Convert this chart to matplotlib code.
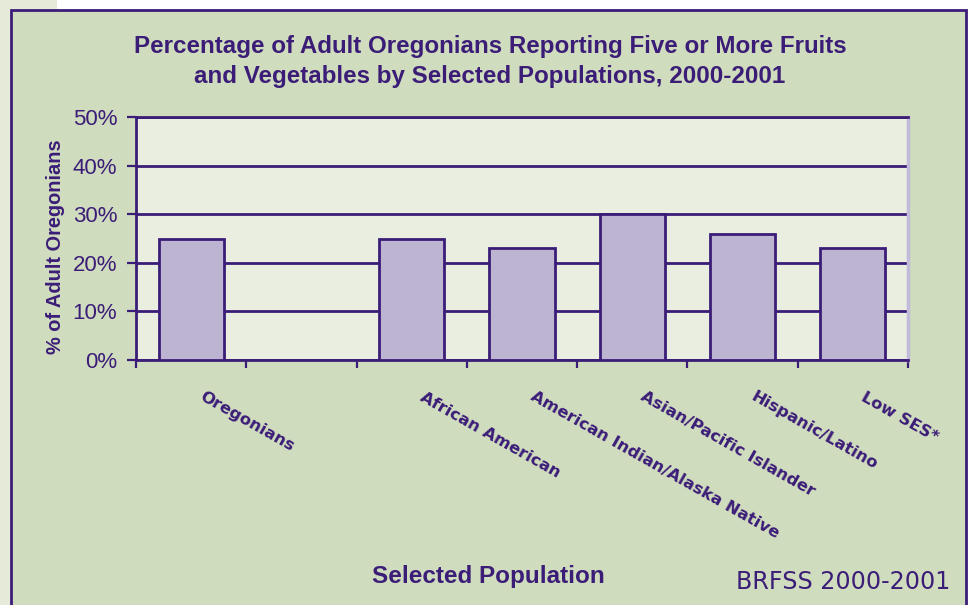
import numpy as np
import matplotlib
matplotlib.use("Agg")
import matplotlib.pyplot as plt
import matplotlib.patches as patches
import matplotlib.transforms as mtransforms
from matplotlib.ticker import FixedLocator, FuncFormatter

# Data: share of adults eating 5+ fruits/vegetables, BRFSS 2000-2001
categories = ["Oregonians", "", "African American", "American Indian/Alaska Native",
              "Asian/Pacific Islander", "Hispanic/Latino", "Low SES*"]
percents = [25, np.nan, 25, 23, 30, 26, 23]
y_ticks = [0, 10, 20, 30, 40, 50]
title_lines = ["Percentage of Adult Oregonians Reporting Five or More Fruits",
               "and Vegetables by Selected Populations, 2000-2001"]

INK = "#3b1d78"
BAR = "#bdb4d2"
PANEL = "#d0dcbe"
PLOT_BG = "#e9eee0"
STRIP = "#e6ead9"

W, H = 971, 605
fig = plt.figure(figsize=(W / 100, H / 100), dpi=100, facecolor="white")

# light strip on the left edge / top-left corner
fig.patches.append(patches.Rectangle((0, 0), 10 / W, 1, transform=fig.transFigure,
                                     facecolor=STRIP, edgecolor="none", zorder=-10))
fig.patches.append(patches.Rectangle((0, 1 - 9 / H), 57 / W, 9 / H, transform=fig.transFigure,
                                     facecolor=STRIP, edgecolor="none", zorder=-10))
# green chart panel with purple border
fig.patches.append(patches.Rectangle((10.5 / W, -0.05), (966 - 10.5) / W, 1.05 - 9.5 / H,
                                     transform=fig.transFigure, facecolor=PANEL,
                                     edgecolor=INK, linewidth=2, zorder=-10))

ax = fig.add_axes([136 / W, 1 - 360 / H, (908 - 136) / W, (360 - 117) / H])
ax.set_facecolor(PLOT_BG)

x = np.arange(len(categories))
ax.bar(x, percents, width=0.59, color=BAR, edgecolor=INK, linewidth=2, zorder=3)

ax.set_xlim(-0.5, len(categories) - 0.5)
ax.set_ylim(0, 50)

# horizontal gridlines
ax.yaxis.set_major_locator(FixedLocator(y_ticks))
ax.yaxis.set_major_formatter(FuncFormatter(lambda v, p: f"{int(v)}%"))
ax.grid(axis="y", color=INK, linewidth=2, zorder=1)
ax.set_axisbelow(True)

for side in ["left", "bottom", "top"]:
    ax.spines[side].set_color(INK)
    ax.spines[side].set_linewidth(2)
ax.spines["right"].set_color("#c2badb")
ax.spines["right"].set_linewidth(2.5)

ax.tick_params(axis="y", direction="out", length=6.5, width=1.6, color=INK,
               labelsize=16, labelcolor=INK, pad=7)
for lbl in ax.get_yticklabels():
    lbl.set_fontfamily("Liberation Sans")

# category boundary ticks on x, labels at centers
ax.set_xticks(np.arange(len(categories) + 1) - 0.5, minor=True)
ax.tick_params(axis="x", which="minor", direction="out", length=5.5, width=1.6, color=INK)
ax.set_xticks(x)
ax.set_xticklabels(categories)
ax.tick_params(axis="x", which="major", length=0, pad=21)
shift = mtransforms.ScaledTranslation(13 / 100, 0, fig.dpi_scale_trans)
for lbl in ax.get_xticklabels():
    lbl.set_rotation(-29.5)
    lbl.set_ha("left")
    lbl.set_va("top")
    lbl.set_rotation_mode("anchor")
    lbl.set_fontfamily("DejaVu Sans")
    lbl.set_fontweight("bold")
    lbl.set_fontsize(11.8)
    lbl.set_color(INK)
    lbl.set_transform(lbl.get_transform() + shift)

ax.set_ylabel("% of Adult Oregonians", fontsize=14.4, fontweight="bold", color=INK,
              fontfamily="Liberation Sans")
ax.yaxis.set_label_coords(-0.092, 0.467)

for line, ypix in zip(title_lines, [46, 77]):
    fig.text(490 / W, 1 - ypix / H, line, ha="center", va="center", fontsize=17.4,
             fontweight="bold", color=INK, fontfamily="Liberation Sans")
fig.text(488 / W, 1 - 577 / H, "Selected Population", ha="center", va="center",
         fontsize=17.5, fontweight="bold", color=INK, fontfamily="Liberation Sans")
fig.text(950 / W, 1 - 582 / H, "BRFSS 2000-2001", ha="right", va="center",
         fontsize=17.1, color=INK, fontfamily="DejaVu Sans")

fig.savefig("out.png", dpi=100, facecolor=fig.get_facecolor())
